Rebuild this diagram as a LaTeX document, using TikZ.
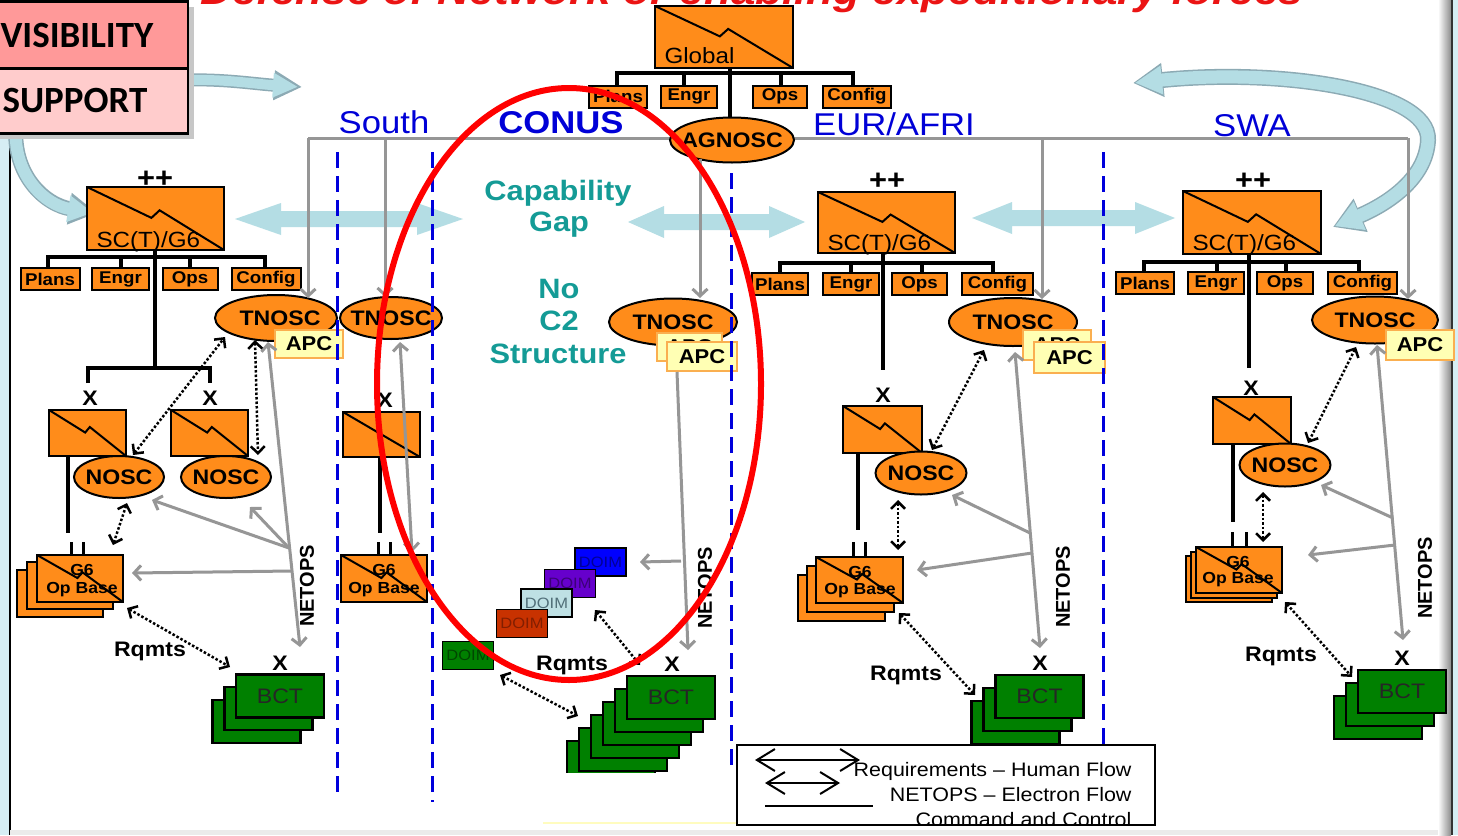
\documentclass[tikz,border=0pt]{standalone}
\usepackage{fontspec}
\setmainfont[FakeStretch=1.1]{Liberation Sans}
\newfontfamily\calibfont{Carlito}
\newfontfamily\plainsf{Liberation Sans}
\usetikzlibrary{arrows.meta,calc,shapes.geometric}
\newcommand\fsz[1]{\fontsize{#1}{#1}\selectfont}
\definecolor{org}{RGB}{255,140,26}
\definecolor{apcY}{RGB}{255,255,180}
\definecolor{apcB}{RGB}{250,175,80}
\definecolor{bctG}{RGB}{0,128,0}
\definecolor{gryC}{RGB}{150,150,150}
\definecolor{dashB}{RGB}{0,0,220}
\definecolor{lblue}{RGB}{180,221,228}
\definecolor{lblueE}{RGB}{140,170,180}
\definecolor{tealT}{RGB}{20,155,150}
\definecolor{visP}{RGB}{255,153,153}
\definecolor{supP}{RGB}{255,204,204}
\definecolor{regB}{RGB}{0,0,215}
\definecolor{lsideC}{RGB}{214,238,244}
\definecolor{titleR}{RGB}{235,20,20}
\definecolor{dBlue}{RGB}{0,0,255}\definecolor{dBlueT}{RGB}{0,0,150}
\definecolor{dPur}{RGB}{102,0,204}\definecolor{dPurT}{RGB}{60,0,120}
\definecolor{dLb}{RGB}{190,224,228}\definecolor{dLbT}{RGB}{80,110,120}
\definecolor{dBr}{RGB}{200,50,0}\definecolor{dBrT}{RGB}{130,30,0}
\definecolor{dGr}{RGB}{0,128,0}\definecolor{dGrT}{RGB}{0,70,0}
\tikzset{
 obox/.style={rectangle, draw=black, fill=org, line width=2.5pt, inner sep=0pt, outer sep=0pt},
 zz/.style={draw=black, line width=2pt},
 sub/.style={rectangle, draw=black, fill=org, line width=2pt, inner sep=0pt, minimum height=22, font=\bfseries\fsz{17}},
 ell/.style={ellipse, draw=black, fill=org, line width=2pt, inner sep=0pt},
 apc/.style={rectangle, draw=apcB, fill=apcY, line width=2.5pt, inner sep=0pt, font=\bfseries\fsz{20}},
 bct/.style={rectangle, draw=black, fill=bctG, line width=2.5pt, inner sep=0pt, minimum width=88, minimum height=43, font=\fsz{21}, text=black!85},
 doim/.style={rectangle, draw=black, line width=1.5pt, inner sep=0pt, minimum width=51, minimum height=28, font=\fsz{15}},
 tree/.style={draw=black, line width=4pt},
 twin/.style={draw=black, line width=3pt},
 gl/.style={draw=gryC, line width=3pt},
 ga/.style={gl, -{Straight Barb[length=7pt,width=15pt]}},
 gaa/.style={gl, {Straight Barb[length=7pt,width=15pt]}-{Straight Barb[length=7pt,width=15pt]}},
 dar/.style={draw=black, line width=2.5pt, dash pattern=on 2.5pt off 2pt, {Straight Barb[length=7pt,width=14pt]}-{Straight Barb[length=7pt,width=14pt]}},
 bdash/.style={draw=dashB, line width=3pt, dash pattern=on 16pt off 8pt},
 xl/.style={font=\bfseries\fsz{21}},
 pp/.style={font=\bfseries\fsz{28}},
 rq/.style={font=\bfseries\fsz{21}},
 netops/.style={font=\plainsf\bfseries\fsz{20}, rotate=90},
 reg/.style={font=\fsz{31.5}, text=regB, anchor=base},
 captxt/.style={font=\bfseries\fsz{28}, text=tealT, anchor=base},
 obt/.style={font=\bfseries\fsz{16}},
 boxlbl/.style={font=\fsz{22}, anchor=base west},
 lgt/.style={font=\fsz{19.5}, anchor=base east},
}
\newcommand\zbox[5]{%
  \node[obox, anchor=north west, minimum width={#4-#2}, minimum height={#5-#3}] (#1) at (#2,#3) {};
  \draw[zz] (#1.north west) -- ($(#1.north west)+({0.47*(#4-#2)},{0.49*(#5-#3)})$) -- ++({0.06*(#4-#2)},{-0.12*(#5-#3)}) -- (#1.south east);
}
\newcommand\pbox[5]{%
  \node[obox, anchor=north west, minimum width={#4-#2}, minimum height={#5-#3}] (#1) at (#2,#3) {};
}
\newcommand\enode[7]{%
  \node[ell, minimum width=#4, minimum height=#5, label={[font=\bfseries\fsz{21}, xshift=#7]center:#6}] (#1) at (#2,#3) {};
}
\newcommand\lbarrow[4]{% x1 x2 y headlength
  \fill[lblue] (#1,#3) -- ({#1+#4},{#3-16}) -- ({#1+#4},{#3-8}) -- ({#2-#4},{#3-8}) -- ({#2-#4},{#3-16}) -- (#2,#3) -- ({#2-#4},{#3+16}) -- ({#2-#4},{#3+8}) -- ({#1+#4},{#3+8}) -- ({#1+#4},{#3+16}) -- cycle;
}
\begin{document}
\begin{tikzpicture}[x=1pt,y=-1pt]
\useasboundingbox (0,0) rectangle (1458,835);
\fill[white] (0,0) rectangle (1458,835);
\fill[lsideC] (0,0) rectangle (10,835);
\draw[black, line width=2pt] (10,133) -- (10,835);
\fill[black!8] (10,830) rectangle (1440,835);
% right frame
\shade[left color=white, right color=black!45] (1438,0) rectangle (1451,835);
\draw[black!80, line width=2pt] (1452,0) -- (1452,835);
\fill[lsideC] (1453,0) rectangle (1458,835);

% title (cut by the top edge)
\node[anchor=base, text=titleR, font=\bfseries\itshape\fsz{40}] (title) at (752,5) {Defense of Network or enabling expeditionary forces};

% light blue arrows
\lbarrow{235}{463}{219}{46}
\lbarrow{628}{805}{222}{36}
\lbarrow{972}{1175}{218}{40}
\draw[lblueE, line width=13pt, -{Triangle[length=28pt,width=28pt]}] (186,80) .. controls (225,79) and (255,84) .. (302,87);
\draw[lblue, line width=10pt, shorten >=2pt, -{Triangle[length=25pt,width=23pt]}] (186,80) .. controls (225,79) and (255,84) .. (300,87);
\draw[lblueE, line width=15pt, -{Triangle[length=28pt,width=30pt]}] (16,125) .. controls (12,175) and (45,205) .. (97,213);
\draw[lblue, line width=12pt, shorten >=2pt, -{Triangle[length=25pt,width=25pt]}] (16,125) .. controls (12,175) and (45,205) .. (95,213);
\draw[lblueE, line width=16pt, {Triangle[length=30pt,width=32pt]}-{Triangle[length=30pt,width=34pt]}] (1133,83) .. controls (1280,68) and (1430,90) .. (1428,140) .. controls (1426,180) and (1385,205) .. (1333,227);
\draw[lblue, line width=13pt, shorten <=2pt, shorten >=2pt, {Triangle[length=27pt,width=27pt]}-{Triangle[length=27pt,width=29pt]}] (1133,83) .. controls (1280,68) and (1430,90) .. (1428,140) .. controls (1426,180) and (1385,205) .. (1333,227);

% gray distribution line
\draw[gl] (308,138) -- (1408,138);

% region labels and captions
\node[reg] (lSouth) at (384,133) {South};
\node[reg, font=\bfseries\fsz{31.5}] (lConus) at (561,133) {CONUS};
\node[reg] (lEur) at (894,135) {EUR/AFRI};
\node[reg] (lSwa) at (1252,136) {SWA};
\node[captxt] (capA) at (558,200) {Capability};
\node[captxt] (capB) at (559,231) {Gap};
\node[captxt] (noA) at (559,298) {No};
\node[captxt] (noB) at (559,330) {C2};
\node[captxt] (noC) at (558,363) {Structure};

% ---------- Global ----------
\draw[tree] (730,68) -- (730,118);
\draw[tree] (617,86) -- (617,73) -- (853,73) -- (853,86);
\draw[tree] (684,73) -- (684,86);
\draw[tree] (781,73) -- (781,86);
\zbox{global}{655}{6}{793}{68}
\node[boxlbl] (globalT) at (661,63) {Global};
\node[sub, minimum width=58] (gPlans) at (618,96.5) {Plans};
\node[sub, minimum width=56] (gEngr) at (689,96.5) {Engr};
\node[sub, minimum width=54] (gOps) at (780,96.5) {Ops};
\node[sub, minimum width=68] (gConfig) at (857,96.5) {Config};
\enode{agnosc}{732}{140}{124}{45}{AGNOSC}{0pt}

% ---------- PAC (left) ----------
\node[pp] (pPP) at (155,179) {++};
\draw[tree] (48,268) -- (48,257) -- (265,257) -- (265,268);
\draw[tree] (121,257) -- (121,268);
\draw[tree] (190,257) -- (190,268);
\draw[tree] (155,250) -- (155,368);
\draw[tree] (88,383) -- (88,368) -- (210,368) -- (210,383);
\zbox{pSC}{87}{187}{224}{250}
\node[boxlbl] (pSCt) at (93,247) {SC(T)/G6};
\node[sub, minimum width=59] (pPlans) at (50,279) {Plans};
\node[sub, minimum width=57] (pEngr) at (120.5,279) {Engr};
\node[sub, minimum width=55] (pOps) at (190,279) {Ops};
\node[sub, minimum width=69] (pConfig) at (266,279) {Config};
\node[xl] (pX1) at (90,398) {X};
\node[xl] (pX2) at (210,398) {X};
\draw[tree] (68,456) -- (68,533);
\draw[twin] (71,542) -- (71,555) (83,542) -- (83,555);
\zbox{pB1}{49}{410}{126}{456}
\zbox{pB2}{171}{410}{248}{456}
\enode{pN1}{119}{477}{90}{42}{NOSC}{0pt}
\enode{pN2}{226}{477}{90}{42}{NOSC}{0pt}
\pbox{pOBc}{17}{570}{103}{617}
\pbox{pOBb}{27}{562}{113}{609}
\zbox{pOB}{37}{555}{123}{602}
\node[obt] (pOBt1) at (82,570) {G6};
\node[obt] (pOBt2) at (82,590) {Op Base};
\enode{pTN}{276}{318}{122}{46}{TNOSC}{4pt}
\node[apc, minimum width=68, minimum height=28] (pAPC) at (309,344) {APC};
\node[xl] (pX3) at (280,663) {X};
\node[bct] (pBCTc) at (256.5,721.5) {};
\node[bct] (pBCTb) at (268.5,708.5) {};
\node[bct] (pBCT) at (280,696) {BCT};

% ---------- South ----------
\enode{sTN}{391}{318}{102}{42}{TNOSC}{0pt}
\node[xl] (sX) at (385,400) {X};
\draw[tree] (380,457) -- (380,533);
\draw[twin] (378,542) -- (378,555) (390,542) -- (390,555);
\pbox{sB}{343}{412}{420}{457}
\draw[zz] (sB.north west) -- (sB.south east);
\zbox{sOB}{341}{555}{427}{602}
\node[obt] (sOBt1) at (384,570) {G6};
\node[obt] (sOBt2) at (384,590) {Op Base};

% ---------- CONUS ----------
\enode{cTN}{673}{322}{128}{47}{TNOSC}{0pt}
\node[apc, minimum width=65, minimum height=28] (cAPC1) at (689.5,347) {APC};
\node[apc, minimum width=70, minimum height=29] (cAPC2) at (702,356.5) {APC};
\node[doim, fill=dBlue, text=dBlueT] (doim1) at (600.5,562) {DOIM};
\node[doim, fill=dPur, text=dPurT] (doim2) at (570,583.5) {DOIM};
\node[doim, fill=dLb, text=dLbT] (doim3) at (546.5,603) {DOIM};
\node[doim, fill=dBr, text=dBrT] (doim4) at (522,623.5) {DOIM};
\node[doim, fill=dGr, text=dGrT] (doim5) at (468,655.5) {DOIM};
\node[xl] (cX) at (672,664) {X};
\begin{scope}
\clip (500,600) rectangle (760,773);
\foreach \i in {5,4,3,2,1}{
  \node[bct] (cBCTb\i) at ({671-12*\i},{697.5+13*\i}) {};
}
\end{scope}
\node[bct] (cBCT) at (671,697.5) {BCT};

% ---------- EUR/AFRI ----------
\node[pp] (ePP) at (887,181) {++};
\draw[tree] (780,273) -- (780,263) -- (993,263) -- (993,273);
\draw[tree] (851,263) -- (851,273);
\draw[tree] (922,263) -- (922,273);
\draw[tree] (883,253) -- (883,370);
\zbox{eSC}{818}{192}{955}{253}
\node[boxlbl] (eSCt) at (824,250) {SC(T)/G6};
\node[sub, minimum width=56] (ePlans) at (780,284) {Plans};
\node[sub, minimum width=56] (eEngr) at (851,284) {Engr};
\node[sub, minimum width=55] (eOps) at (919.5,284) {Ops};
\node[sub, minimum width=71] (eConfig) at (997.5,284) {Config};
\node[xl] (eX) at (883,395) {X};
\draw[tree] (858,453) -- (858,530);
\draw[twin] (853,542) -- (853,557) (865,542) -- (865,557);
\zbox{eB}{843}{406}{922}{453}
\enode{eN}{921}{473}{91}{43}{NOSC}{0pt}
\pbox{eOBc}{798}{575}{885}{621}
\pbox{eOBb}{807}{566}{894}{612}
\zbox{eOB}{816}{557}{903}{603}
\node[obt] (eOBt1) at (860,572) {G6};
\node[obt] (eOBt2) at (860,591) {Op Base};
\enode{eTN}{1013}{322}{128}{48}{TNOSC}{0pt}
\node[apc, minimum width=68, minimum height=30] (eAPC1) at (1057,345) {APC};
\node[apc, minimum width=71, minimum height=31] (eAPC2) at (1069.5,357.5) {APC};
\node[xl] (eX2) at (1040,663) {X};
\node[bct] (eBCTc) at (1015.5,722.5) {};
\node[bct] (eBCTb) at (1027.5,709.5) {};
\node[bct] (eBCT) at (1039.5,696.5) {BCT};

% ---------- SWA ----------
\node[pp] (wPP) at (1253,181) {++};
\draw[tree] (1144,272) -- (1144,262) -- (1359,262) -- (1359,272);
\draw[tree] (1217,262) -- (1217,272);
\draw[tree] (1286,262) -- (1286,272);
\draw[tree] (1249,254) -- (1249,368);
\zbox{wSC}{1183}{191}{1321}{254}
\node[boxlbl] (wSCt) at (1189,250) {SC(T)/G6};
\node[sub, minimum width=58] (wPlans) at (1145,283) {Plans};
\node[sub, minimum width=56] (wEngr) at (1216,283) {Engr};
\node[sub, minimum width=56] (wOps) at (1285,283) {Ops};
\node[sub, minimum width=69] (wConfig) at (1362.5,283) {Config};
\node[xl] (wX) at (1251,388) {X};
\draw[tree] (1233,444) -- (1233,522);
\draw[twin] (1232,532) -- (1232,547) (1246,532) -- (1246,547);
\zbox{wB}{1213}{397}{1291}{444}
\enode{wN}{1285}{465}{91}{43}{NOSC}{0pt}
\pbox{wOBc}{1186}{556}{1272}{602}
\pbox{wOBb}{1191}{552}{1277}{598}
\zbox{wOB}{1196}{547}{1282}{593}
\node[obt] (wOBt1) at (1238,562) {G6};
\node[obt] (wOBt2) at (1238,580) {Op Base};
\enode{wTN}{1375}{320}{126}{47}{TNOSC}{0pt}
\node[apc, minimum width=68, minimum height=30] (wAPC) at (1420,345) {APC};
\node[xl] (wX2) at (1402,658) {X};
\node[bct] (wBCTc) at (1378,717.5) {};
\node[bct] (wBCTb) at (1390,704.5) {};
\node[bct] (wBCT) at (1402,691.5) {BCT};

% ---------- gray NETOPS lines ----------
\draw[ga] (308,138) -- (308,298);
\draw[ga] (385,138) -- (385,297);
\draw[ga] (700,159) -- (700,298);
\draw[ga] (1042,138) -- (1042,299);
\draw[ga] (1408,138) -- (1408,299);
% PAC
\coordinate (pJ1) at (289,548);
\coordinate (pJ2) at (292,571);
\draw[gaa] (268,342) -- (300,647);
\draw[ga] (pJ1) -- (152,500);
\draw[ga] (pJ1) -- (250,507);
\draw[ga] (pJ2) -- (132,573);
\node[netops] (pNet) at (307,586) {NETOPS};
% South
\draw[gaa] (400,342) -- (412,552);
% CONUS
\coordinate (cJ1) at (681,561);
\draw[ga] (677,372) -- (688,650);
\draw[ga] (cJ1) -- (640,562);
\node[netops] (cNet) at (705,588) {NETOPS};
% EUR
\coordinate (eJ1) at (1030,533);
\coordinate (eJ2) at (1032,553);
\draw[gaa] (1015,352) -- (1040,648);
\draw[ga] (eJ1) -- (952,495);
\draw[ga] (eJ2) -- (917,570);
\node[netops] (eNet) at (1063,587) {NETOPS};
% SWA
\coordinate (wJ1) at (1393,518);
\coordinate (wJ2) at (1395,545);
\draw[gaa] (1377,345) -- (1403,640);
\draw[ga] (wJ1) -- (1321,485);
\draw[ga] (wJ2) -- (1308,555);
\node[netops] (wNet) at (1425,578) {NETOPS};

% ---------- dotted requirement arrows ----------
\draw[dar] (133,455) -- (225,337);
\draw[dar] (255,340) -- (258,455);
\draw[dar] (127,503) -- (113,545);
\draw[dar] (127,608) -- (230,667);
\node[rq] (pRq) at (150,651) {Rqmts};
\draw[dar] (595,610) -- (640,665);
\draw[dar] (500,675) -- (578,716);
\node[rq] (cRq) at (572,665) {Rqmts};
\draw[dar] (984,350) -- (932,450);
\draw[dar] (898,500) -- (898,550);
\draw[dar] (899,613) -- (975,695);
\node[rq] (eRq) at (906,675) {Rqmts};
\draw[dar] (1356,347) -- (1308,443);
\draw[dar] (1263,492) -- (1263,542);
\draw[dar] (1285,602) -- (1352,677);
\node[rq] (wRq) at (1281,656) {Rqmts};

% ---------- blue dashed boundaries ----------
\draw[bdash] (337,152) -- (337,793);
\draw[bdash] (432,152) -- (432,802);
\draw[bdash] (731,173) -- (731,772);
\draw[bdash] (1103,152) -- (1103,745);

% ---------- red ellipse ----------
\draw[red, line width=6pt] (569,384) ellipse [x radius=192, y radius=296];

% ---------- legend ----------
\fill[white] (530,773) rectangle (737,829);
\draw[yellow!25, line width=2pt] (543,823) -- (737,823);
\node[rectangle, draw=black, fill=white, line width=2.5pt, minimum width=418, minimum height=80, anchor=north west, inner sep=0pt, outer sep=0pt] (legend) at (737,745) {};
\begin{scope}
\clip (legend.north west) rectangle (legend.south east);
\draw[line width=2pt, {Straight Barb[length=18pt,width=22pt]}-{Straight Barb[length=18pt,width=22pt]}] (755,760) -- (860,760);
\draw[line width=2pt, {Straight Barb[length=18pt,width=22pt]}-{Straight Barb[length=18pt,width=22pt]}] (765,783) -- (840,783);
\draw[line width=2pt] (765,806) -- (873,806);
\node[lgt] (lg1) at (1135,776) {Requirements – Human Flow};
\node[lgt] (lg2) at (1135,801) {NETOPS – Electron Flow};
\node[lgt] (lg3) at (1135,826) {Command and Control};
\end{scope}
\draw[line width=2.5pt] (legend.north west) rectangle (legend.south east);

% ---------- VISIBILITY / SUPPORT ----------
\fill[black!22] (-4,7) rectangle (194,139);
\node[rectangle, draw=black, fill=visP, line width=2.5pt, anchor=north west, minimum width=200, minimum height=67, inner sep=0pt, outer sep=0pt] (vis) at (-12,1.5) {};
\node[rectangle, draw=black, fill=supP, line width=2.5pt, anchor=north west, minimum width=200, minimum height=65, inner sep=0pt, outer sep=0pt] (sup) at (-12,68.5) {};
\node[anchor=base west, font=\calibfont\bfseries\fsz{37}] (visT) at (-3,47) {VISIBILITY};
\node[anchor=base west, font=\calibfont\bfseries\fsz{37}] (supT) at (-1,112) {SUPPORT};
\end{tikzpicture}
\end{document}
